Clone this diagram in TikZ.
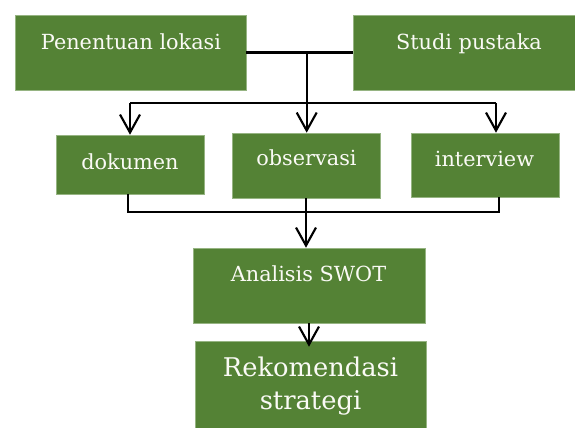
\documentclass[tikz,border=0pt]{standalone}
\usepackage{fontspec}
\setmainfont{DejaVu Serif}
\usetikzlibrary{arrows.meta,fit}
\definecolor{boxgreen}{RGB}{84,130,53}
\definecolor{boxedge}{RGB}{150,180,130}
\definecolor{boxtext}{RGB}{250,250,245}
\begin{document}
\begin{tikzpicture}[x=0.75pt,y=-0.75pt,
  box/.style={draw=boxedge,line width=0.4pt,fill=boxgreen,inner sep=0pt,rectangle},
  lbl/.style={text=boxtext,anchor=base,inner sep=0pt,font=\fontsize{15.6}{18}\selectfont},
  biglbl/.style={text=boxtext,anchor=base,inner sep=0pt,align=center,font=\fontsize{19.3}{24.75}\selectfont},
  conn/.style={draw=black,line width=1.6pt},
  arr/.style={conn,-{Straight Barb[length=13.5pt,width=15pt,line width=1.6pt]}}]
\useasboundingbox (0,0) rectangle (575,428);
% boxes
\node[box,fit={(15,15) (246,90)}] (pen) {};
\node[box,fit={(353,15) (575,90)}] (stu) {};
\node[box,fit={(56,135) (204,194)}] (dok) {};
\node[box,fit={(232,133) (380,198)}] (obs) {};
\node[box,fit={(411,133) (559,197)}] (int) {};
\node[box,fit={(193,248) (425,323)}] (ana) {};
\node[box,fit={(195,341) (426,428)}] (rek) {};
% texts
\node[lbl] (tpen) at (131,49.3) {Penentuan lokasi};
\node[lbl] (tstu) at (469,49.3) {Studi pustaka};
\node[lbl] (tdok) at (130,169) {dokumen};
\node[lbl] (tobs) at (306.5,166) {observasi};
\node[lbl] (tint) at (484.5,166.7) {interview};
\node[lbl] (tana) at (308.5,281.7) {Analisis SWOT};
\node[biglbl,anchor=north] (trek) at (310.5,357) {Rekomendasi\\strategi};
% connectors
\coordinate (j1) at (306.7,52.5);
\coordinate (h1l) at (130,103);
\coordinate (h1r) at (496,103);
\coordinate (b1) at (128,212);
\coordinate (b2) at (499,212);
\draw[conn] (pen.east) -- (stu.west);
\draw[arr] (j1) -- (obs.north -| j1);
\draw[conn] (h1l) -- (h1r);
\draw[arr] (h1l) -- (dok.north -| h1l);
\draw[arr] (h1r) -- (int.north -| h1r);
\draw[conn] (dok.south -| b1) -- (b1) -- (b2) -- (int.south -| b2);
\draw[arr] (obs.south) -- (obs.south |- ana.north);
\draw[arr] (ana.south) -- ([yshift=-6*0.75pt]ana.south |- rek.north);
\end{tikzpicture}
\end{document}
